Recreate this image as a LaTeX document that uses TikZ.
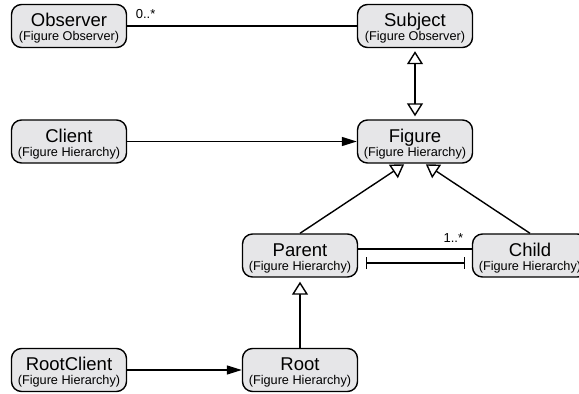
\documentclass[tikz,border=0pt]{standalone}
\usepackage{fontspec}
\setmainfont{Liberation Sans}
\usetikzlibrary{arrows.meta}
\definecolor{boxgray}{RGB}{230,230,232}
\newcommand{\titlef}{\fontsize{18.5}{20}\selectfont}
\newcommand{\subf}{\fontsize{12.7}{14}\selectfont}
\newcommand{\lblf}{\fontsize{13}{14}\selectfont}
\newcommand{\clstext}[2]{\rule{0pt}{18.5pt}{\titlef #1}\\{\subf #2}}
\tikzset{
  cls/.style={draw, line width=1.4pt, fill=boxgray, rounded corners=10pt,
    minimum width=115pt, minimum height=43pt, inner sep=0pt, align=center, font=\subf},
  conn/.style={line width=1.4pt},
  gen/.style={conn, -{Triangle[open, width=16pt, length=13pt, fill=white]}},
  gen2/.style={conn, {Triangle[open, width=16pt, length=13pt, fill=white]}-{Triangle[open, width=16pt, length=13pt, fill=white]}},
  nav/.style={conn, -{Triangle[width=9pt, length=15pt]}},
  barbar/.style={conn, {Bar[width=12pt]}-{Bar[width=12pt]}},
  mult/.style={font=\lblf, inner sep=0pt}
}
\begin{document}
\begin{tikzpicture}[x=1pt,y=-1pt]
\useasboundingbox (0,0) rectangle (579,394);
\node[cls] (Observer) at (69,26) {\clstext{Observer}{(Figure Observer)}};
\node[cls] (Subject) at (415,26) {\clstext{Subject}{(Figure Observer)}};
\node[cls] (Client) at (69,141.5) {\clstext{Client}{(Figure Hierarchy)}};
\node[cls] (Figure) at (415,141.5) {\clstext{Figure}{(Figure Hierarchy)}};
\node[cls] (Parent) at (300,255.5) {\clstext{Parent}{(Figure Hierarchy)}};
\node[cls] (Child) at (530,255.5) {\clstext{Child}{(Figure Hierarchy)}};
\node[cls] (RootClient) at (69,370) {\clstext{RootClient}{(Figure Hierarchy)}};
\node[cls] (Root) at (300,370) {\clstext{Root}{(Figure Hierarchy)}};

\draw[conn] (Observer) -- (Subject)
  node[mult, pos=0, anchor=base west, xshift=8pt, yshift=8pt] (m1) {0..*};
\draw[gen2, shorten <=3pt, shorten >=3pt] (Figure) -- (Subject);
\draw[nav] (Client) -- (Figure);
\draw[gen, shorten >=1pt] (Parent.north) -- ([xshift=-10pt]Figure.south);
\draw[gen, shorten >=1pt] (Child.north) -- ([xshift=10pt]Figure.south);
\draw[conn] ([yshift=6.5pt]Parent.east) -- ([yshift=6.5pt]Child.west)
  node[mult, pos=1, anchor=base east, xshift=-8pt, yshift=7pt] (m2) {1..*};
\draw[barbar] ([xshift=7.5pt,yshift=-7.5pt]Parent.east) -- ([xshift=-6.5pt,yshift=-7.5pt]Child.west);
\draw[gen, shorten >=4pt] (Root) -- (Parent);
\draw[nav] (RootClient) -- (Root);
\end{tikzpicture}
\end{document}
